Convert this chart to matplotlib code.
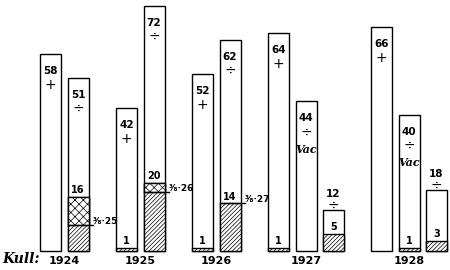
import matplotlib
matplotlib.use("Agg")
import matplotlib.pyplot as plt

# data
years = ["1924", "1925", "1926", "1927", "1928"]
bar_year = [0, 0, 1, 1, 2, 2, 3, 3, 3, 4, 4, 4]
bar_total = [58, 51, 42, 72, 52, 62, 64, 44, 12, 66, 40, 18]
bar_sign = ["+", "÷", "+", "÷", "+", "÷", "+", "÷", "÷", "+", "÷", "÷"]
bar_note = ["", "", "", "", "", "", "", "Vac", "", "", "Vac", ""]
bar_hatched = [0, 16, 1, 20, 1, 14, 1, 0, 5, 0, 1, 3]
# date marks inside the hatched part: (bar index, level, label)
marks = [(1, 7.6, "³⁄₈·25"), (3, 17.4, "³⁄₈·26"), (5, 14, "³⁄₈·27")]

# layout (pixel-like units)
group_start = [40, 116, 192, 268, 371]
slot = 27.5
width = 21
base_px = 251
px_per_unit = 3.4

plt.rcParams["hatch.linewidth"] = 0.5
fig = plt.figure(figsize=(4.5, 2.7), dpi=100)
ax = fig.add_axes([0, 0, 1, 1])
ax.set_xlim(0, 450)
ax.set_ylim(-(270 - base_px) / px_per_unit, base_px / px_per_unit)
ax.axis("off")

u = 1 / px_per_unit  # one pixel in value units
counter = {}
centers = []
for i in range(len(bar_total)):
    g = bar_year[i]
    k = counter.get(g, 0)
    counter[g] = k + 1
    x = group_start[g] + width / 2 + k * slot
    centers.append(x)
    tot = bar_total[i]
    ax.bar(x, tot, width=width, color="white", edgecolor="black", linewidth=1)
    h = bar_hatched[i]
    if h:
        ax.bar(x, h, width=width, color="white", edgecolor="black",
               hatch="////////", linewidth=1)
        ax.text(x, h + 2, str(h), ha="center", va="center", fontsize=7,
                fontweight="bold")
    if tot > 30:
        ax.text(x, tot - 17 * u, str(tot), ha="center", va="center",
                fontsize=7.5, fontweight="bold")
        ax.text(x, tot - 31 * u, bar_sign[i], ha="center", va="center",
                fontsize=10)
        if bar_note[i]:
            ax.text(x, tot - 48 * u, bar_note[i], ha="center", va="center",
                    fontsize=8, family="DejaVu Serif", style="italic",
                    fontweight="bold")
    else:
        ax.text(x, tot + 16 * u, str(tot), ha="center", va="center",
                fontsize=7.5, fontweight="bold")
        ax.text(x, tot + 4 * u, bar_sign[i], ha="center", va="center",
                fontsize=10)

for i, level, label in marks:
    x = centers[i]
    if level < bar_hatched[i]:
        # upper band of the hatched part drawn in a different hatch
        ax.bar(x, bar_hatched[i] - level, bottom=level, width=width,
               color="white", edgecolor="black", hatch="xxxx", linewidth=1)
    ax.plot([x - width / 2, x + width / 2 + 4], [level, level], color="black",
            linewidth=1)
    ax.text(x + width / 2 + 4, level + 1, label, ha="left", va="center",
            fontsize=6.5, fontweight="bold")

for g, yr in enumerate(years):
    xs = [c for c, b in zip(centers, bar_year) if b == g]
    ax.text((min(xs) + max(xs)) / 2, -10 * u, yr, ha="center", va="center",
            fontsize=8, fontweight="bold")
ax.text(2, -8 * u, "Kull:", ha="left", va="center", fontsize=10,
        family="DejaVu Serif", fontweight="bold", style="italic")

fig.savefig("out.png", dpi=100)
